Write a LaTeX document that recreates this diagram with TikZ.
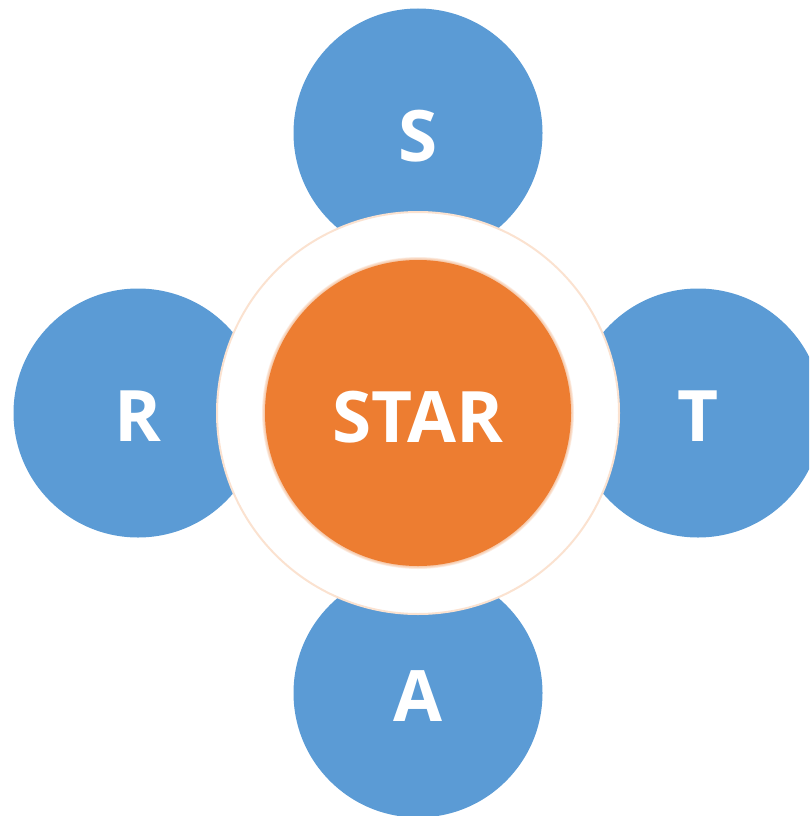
\documentclass[tikz,border=0pt]{standalone}
\usepackage{fontspec}
\setmainfont{Open Sans}
\definecolor{petal}{HTML}{5B9BD5}
\definecolor{core}{HTML}{ED7D31}
\definecolor{ringline}{HTML}{FBE2D0}
\begin{document}
\begin{tikzpicture}[x=1pt,y=-1pt,
  petal/.style={circle,fill=petal,minimum size=249pt,inner sep=0pt,text=white,
    font=\fontsize{71}{71}\selectfont\bfseries,text height=57pt,text depth=0pt},
  ringstyle/.style={circle,fill=white,draw=ringline,line width=2pt,minimum size=402pt,inner sep=0pt},
  corestyle/.style={circle,fill=core,minimum size=306pt,inner sep=0pt,text=white,
    font=\fontsize{71}{71}\selectfont\bfseries,text height=58pt,text depth=0pt}]
\useasboundingbox (0,0) rectangle (809,816);
\begin{scope}
\clip (0,0) rectangle (809,816);
\node[petal] (s) at (418,133) {S};
\node[petal] (r) at (138,413) {R};
\node[petal] (t) at (698,413) {T};
\node[petal] (a) at (418,693) {A};
\node[ringstyle] (ring) at (418,413) {};
\foreach \i in {0,...,5}{
  \fill[core!60!white,opacity=0.2] (418,413) circle ({153+0.6*\i});
}
\node[corestyle] (star) at (418,413) {STAR};
\end{scope}
\end{tikzpicture}
\end{document}
